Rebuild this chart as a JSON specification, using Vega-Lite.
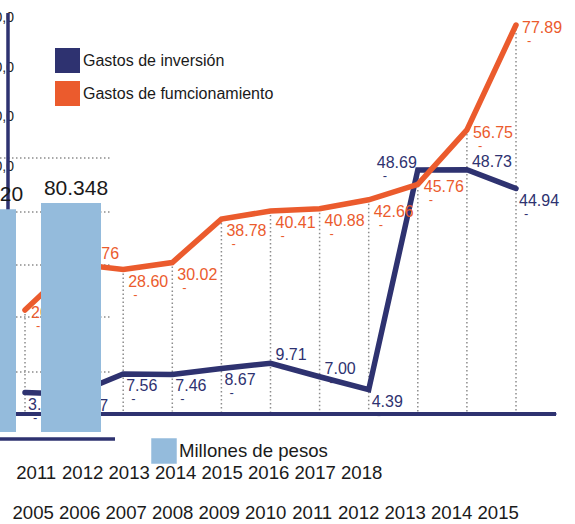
{
 "$schema": "https://vega.github.io/schema/vega-lite/v6.json",
 "width": 575, "height": 524, "padding": 0, "autosize": {"type": "none"},
 "background": "white",
 "config": {"view": {"stroke": null}, "font": "Liberation Sans", "text": {"font": "Liberation Sans"}},
 "datasets": {
  "gastos": [
   {"series": "Gastos de inversión", "year": 2005, "value": 3.83},
   {"series": "Gastos de inversión", "year": 2006, "value": 3.47},
   {"series": "Gastos de inversión", "year": 2007, "value": 7.56},
   {"series": "Gastos de inversión", "year": 2008, "value": 7.46},
   {"series": "Gastos de inversión", "year": 2009, "value": 8.67},
   {"series": "Gastos de inversión", "year": 2010, "value": 9.71},
   {"series": "Gastos de inversión", "year": 2011, "value": 7.00},
   {"series": "Gastos de inversión", "year": 2012, "value": 4.39},
   {"series": "Gastos de inversión", "year": 2013, "value": 48.69},
   {"series": "Gastos de inversión", "year": 2014, "value": 48.73},
   {"series": "Gastos de inversión", "year": 2015, "value": 44.94},
   {"series": "Gastos de fumcionamiento", "year": 2005, "value": 20.45},
   {"series": "Gastos de fumcionamiento", "year": 2006, "value": 29.76},
   {"series": "Gastos de fumcionamiento", "year": 2007, "value": 28.60},
   {"series": "Gastos de fumcionamiento", "year": 2008, "value": 30.02},
   {"series": "Gastos de fumcionamiento", "year": 2009, "value": 38.78},
   {"series": "Gastos de fumcionamiento", "year": 2010, "value": 40.41},
   {"series": "Gastos de fumcionamiento", "year": 2011, "value": 40.88},
   {"series": "Gastos de fumcionamiento", "year": 2012, "value": 42.66},
   {"series": "Gastos de fumcionamiento", "year": 2013, "value": 45.76},
   {"series": "Gastos de fumcionamiento", "year": 2014, "value": 56.75},
   {"series": "Gastos de fumcionamiento", "year": 2015, "value": 77.89}
  ],
  "pesos": [
   {"year": 2011, "value": 78.12, "serie": "Millones de pesos"},
   {"year": 2012, "value": 80.348, "serie": "Millones de pesos"}
  ],
  "grid": [{"g": 21.05}, {"g": 40.35}, {"g": 58.6}, {"g": 77.2}, {"g": 96.1}],
  "ticks": [{"t": 140}, {"t": 120}, {"t": 100}, {"t": 80}],
  "rowA": [{"year": 2011}, {"year": 2012}, {"year": 2013}, {"year": 2014}, {"year": 2015}, {"year": 2016}, {"year": 2017}, {"year": 2018}],
  "rowB": [{"year": 2005}, {"year": 2006}, {"year": 2007}, {"year": 2008}, {"year": 2009}, {"year": 2010}, {"year": 2011}, {"year": 2012}, {"year": 2013}, {"year": 2014}, {"year": 2015}]
 },
 "layer": [
  {
   "data": {"name": "grid"},
   "mark": {"type": "rule", "color": "#8c8c8c", "strokeWidth": 1.5, "strokeDash": [1.5, 2.5]},
   "encoding": {
    "y": {"field": "g", "type": "quantitative", "scale": {"domain": [-32.281, 151.579], "nice": false, "zero": false, "padding": 0}, "axis": null},
    "x": {"datum": 2011.1647, "type": "quantitative", "scale": {"domain": [2011.1647, 2017.9294], "nice": false, "zero": false, "padding": 0}, "axis": null},
    "x2": {"datum": 2012.4588}
   }
  },
  {
   "data": {"name": "gastos"},
   "encoding": {
    "x": {"field": "year", "type": "quantitative", "scale": {"domain": [2004.4908, 2016.2016], "nice": false, "zero": false, "padding": 0}, "axis": null},
    "y": {"field": "value", "type": "quantitative", "scale": {"domain": [-22.67, 82.93], "nice": false, "zero": false, "padding": 0}, "axis": null}
   },
   "layer": [
    {
     "mark": {"type": "rule", "color": "#8c8c8c", "strokeWidth": 1.5, "strokeDash": [1.5, 2.5]},
     "encoding": {"y": {"aggregate": "max", "field": "value", "type": "quantitative"}, "y2": {"datum": 0}}
    },
    {
     "mark": {"type": "rule", "color": "#2e3270", "strokeWidth": 3},
     "encoding": {"x": {"datum": 2004.4908}, "x2": {"datum": 2015.815}, "y": {"datum": -0.5}}
    },
    {
     "mark": {"type": "line", "strokeWidth": 5.5, "strokeCap": "round"},
     "encoding": {
      "color": {"field": "series", "type": "nominal",
       "scale": {"domain": ["Gastos de inversión", "Gastos de fumcionamiento"], "range": ["#2e3270", "#eb5b2d"]},
       "legend": {"orient": "none", "legendX": 55, "legendY": 48, "title": null, "symbolType": "square", "symbolSize": 625, "symbolStrokeWidth": 0, "labelFontSize": 16, "labelFont": "Liberation Sans", "labelColor": "#1a1a1a", "labelOffset": 3, "rowPadding": 8, "padding": 0, "labelLimit": 400,
        "encode": {"symbols": {"update": {"fill": {"scale": "color", "field": "value"}, "fillOpacity": {"value": 1}, "strokeWidth": {"value": 0}}}}}
      }
     }
    },
    {
     "transform": [{"filter": {"and": [{"field": "series", "equal": "Gastos de fumcionamiento"}, {"field": "year", "oneOf": [2007, 2008, 2009, 2010, 2011, 2012]}]}}],
     "layer": [
      {"mark": {"type": "text", "align": "left", "baseline": "middle", "dx": 5, "dy": 12, "fontSize": 16, "color": "#eb5b2d"}, "encoding": {"text": {"field": "value", "type": "quantitative", "format": ".2f"}}},
      {"mark": {"type": "text", "align": "left", "baseline": "middle", "dx": 10, "dy": 25, "fontSize": 13, "color": "#eb5b2d", "text": "-"}, "encoding": {}}
     ]
    },
    {
     "transform": [{"filter": {"and": [{"field": "series", "equal": "Gastos de fumcionamiento"}, {"field": "year", "oneOf": [2005, 2013, 2014, 2015]}]}}],
     "layer": [
      {"mark": {"type": "text", "align": "left", "baseline": "middle", "dx": 6, "dy": 3, "fontSize": 16, "color": "#eb5b2d"}, "encoding": {"text": {"field": "value", "type": "quantitative", "format": ".2f"}}},
      {"mark": {"type": "text", "align": "left", "baseline": "middle", "dx": 11, "dy": 16, "fontSize": 13, "color": "#eb5b2d", "text": "-"}, "encoding": {}}
     ]
    },
    {
     "transform": [{"filter": {"and": [{"field": "series", "equal": "Gastos de fumcionamiento"}, {"field": "year", "oneOf": [2006]}]}}],
     "layer": [
      {"mark": {"type": "text", "align": "left", "baseline": "middle", "dx": 5, "dy": -10, "fontSize": 16, "color": "#eb5b2d"}, "encoding": {"text": {"field": "value", "type": "quantitative", "format": ".2f"}}}
     ]
    },
    {
     "transform": [{"filter": {"and": [{"field": "series", "equal": "Gastos de inversión"}, {"field": "year", "oneOf": [2005, 2006, 2007, 2008, 2009, 2012, 2015]}]}}],
     "layer": [
      {"mark": {"type": "text", "align": "left", "baseline": "middle", "dx": 3, "dy": 12, "fontSize": 16, "color": "#2e3270"}, "encoding": {"text": {"field": "value", "type": "quantitative", "format": ".2f"}}},
      {"mark": {"type": "text", "align": "left", "baseline": "middle", "dx": 8, "dy": 25, "fontSize": 13, "color": "#2e3270", "text": "-"}, "encoding": {}}
     ]
    },
    {
     "transform": [{"filter": {"and": [{"field": "series", "equal": "Gastos de inversión"}, {"field": "year", "oneOf": [2010, 2011, 2014]}]}}],
     "layer": [
      {"mark": {"type": "text", "align": "left", "baseline": "middle", "dx": 5, "dy": -8, "fontSize": 16, "color": "#2e3270"}, "encoding": {"text": {"field": "value", "type": "quantitative", "format": ".2f"}}},
      {"mark": {"type": "text", "align": "left", "baseline": "middle", "dx": 10, "dy": 5, "fontSize": 13, "color": "#2e3270", "text": "-"}, "encoding": {}}
     ]
    },
    {
     "transform": [{"filter": {"and": [{"field": "series", "equal": "Gastos de inversión"}, {"field": "year", "oneOf": [2013]}]}}],
     "layer": [
      {"mark": {"type": "text", "align": "right", "baseline": "middle", "dx": -1, "dy": -7, "fontSize": 16, "color": "#2e3270"}, "encoding": {"text": {"field": "value", "type": "quantitative", "format": ".2f"}}},
      {"mark": {"type": "text", "align": "left", "baseline": "middle", "dx": -35, "dy": 6, "fontSize": 13, "color": "#2e3270", "text": "-"}, "encoding": {}}
     ]
    }
   ]
  },
  {
   "data": {"name": "pesos"},
   "encoding": {
    "x": {"field": "year", "type": "quantitative", "scale": {"domain": [2011.1647, 2017.9294], "nice": false, "zero": false, "padding": 0}, "axis": null},
    "y": {"field": "value", "type": "quantitative", "scale": {"domain": [-32.281, 151.579], "nice": false, "zero": false, "padding": 0}, "axis": null}
   },
   "layer": [
    {
     "mark": {"type": "rule", "color": "#2e3270", "strokeWidth": 3},
     "encoding": {"x": {"datum": 2011.2588}, "y": {"datum": 147}, "y2": {"datum": 0}}
    },
    {
     "mark": {"type": "bar", "width": 60, "clip": true},
     "encoding": {
      "y2": {"datum": 0},
      "fill": {"field": "serie", "type": "nominal", "scale": {"range": ["#94bbdc"]},
       "legend": {"orient": "none", "legendX": 151, "legendY": 438, "title": null, "symbolType": "square", "symbolSize": 650, "symbolStrokeWidth": 0, "labelFontSize": 18.6, "labelFont": "Liberation Sans", "labelColor": "#1a1a1a", "labelOffset": 2, "padding": 0, "labelLimit": 400}}
     }
    },
    {
     "mark": {"type": "text", "dx": 5, "dy": -14, "fontSize": 21, "color": "#1a1a1a", "baseline": "middle", "align": "center", "clip": true},
     "encoding": {"text": {"field": "value", "type": "quantitative", "format": ".3f"}}
    },
    {
     "mark": {"type": "rule", "color": "#2e3270", "strokeWidth": 3},
     "encoding": {"x": {"datum": 2011.1647}, "x2": {"datum": 2012.5176}, "y": {"datum": -2.456}}
    }
   ]
  },
  {
   "data": {"name": "ticks"},
   "mark": {"type": "point", "opacity": 0},
   "encoding": {
    "y": {"field": "t", "type": "quantitative", "scale": {"domain": [-65.13, 147.297], "nice": false, "zero": false, "padding": 0},
     "axis": {"orient": "left", "offset": -13.5, "values": [140, 120, 100, 80], "labelExpr": "replace(format(datum.value, '.1f'), '.', ',')", "ticks": false, "domain": false, "grid": false, "labelPadding": 0, "labelFontSize": 14, "labelFont": "Liberation Sans", "labelColor": "#222222", "title": null}}
   }
  },
  {
   "data": {"name": "rowA"},
   "mark": {"type": "point", "opacity": 0},
   "encoding": {
    "x": {"field": "year", "type": "quantitative", "scale": {"domain": [2010.2323, 2022.5978], "nice": false, "zero": false, "padding": 0},
     "axis": {"orient": "bottom", "offset": -52, "values": [2011, 2012, 2013, 2014, 2015, 2016, 2017, 2018], "format": "d", "ticks": false, "domain": false, "grid": false, "labelPadding": 0, "labelBaseline": "middle", "labelFontSize": 18.6, "labelFont": "Liberation Sans", "labelColor": "#1a1a1a", "labelOverlap": false, "labelFlush": false, "title": null}}
   }
  },
  {
   "data": {"name": "rowB"},
   "mark": {"type": "point", "opacity": 0},
   "encoding": {
    "x": {"field": "year", "type": "quantitative", "scale": {"domain": [2004.2968, 2016.6624], "nice": false, "zero": false, "padding": 0},
     "axis": {"orient": "bottom", "offset": -12, "values": [2005, 2006, 2007, 2008, 2009, 2010, 2011, 2012, 2013, 2014, 2015], "format": "d", "ticks": false, "domain": false, "grid": false, "labelPadding": 0, "labelBaseline": "middle", "labelFontSize": 18.6, "labelFont": "Liberation Sans", "labelColor": "#1a1a1a", "labelOverlap": false, "labelFlush": false, "title": null}}
   }
  }
 ],
 "resolve": {"scale": {"x": "independent", "y": "independent"}}
}
